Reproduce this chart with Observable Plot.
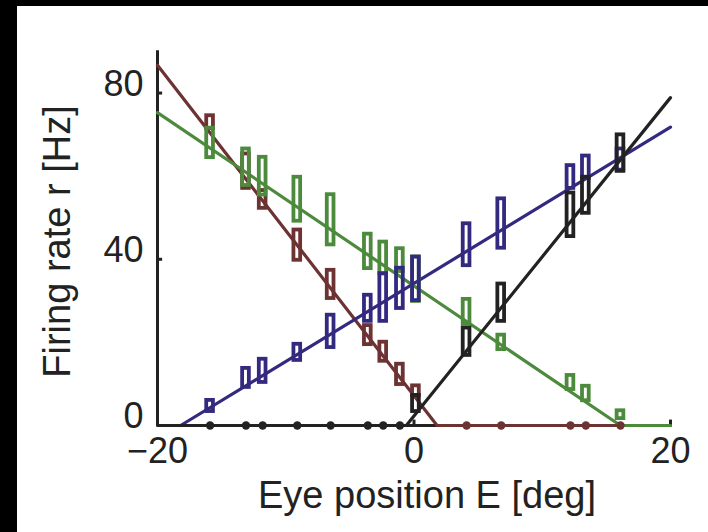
<!DOCTYPE html>
<html>
<head>
<meta charset="utf-8">
<script src="https://cdn.jsdelivr.net/npm/d3@7"></script>
<script src="https://cdn.jsdelivr.net/npm/@observablehq/plot@0.6"></script>
<style>
  html, body { margin: 0; padding: 0; background: #000; width: 708px; height: 532px; overflow: hidden; }
  #wrap { position: absolute; left: 17px; top: 6px; width: 691px; height: 526px; background: #fff; }
  svg { overflow: visible; font-family: "Liberation Sans", Arial, sans-serif; }
</style>
</head>
<body>
<div id="wrap"></div>
<script>
// Eye positions (deg) shared by all neurons
const eyePos = [-15.9, -13.1, -11.8, -9.1, -6.5, -3.6, -2.4, -1.1, 0.15, 4.1, 6.8, 12.2, 13.4, 16.1];

// Box ranges (low, high) in Hz; null = recorded rate at zero (drawn as a dot)
const redLo   = [71, 56.6, 51.8, 39.3, 30.1, 19, 15, 9.4, 6.7, null, null, null, null, null];
const redHi   = [75, 65.8, 57, 47.5, 37.8, 24.5, 20.5, 15.2, 10, null, null, null, null, null];
const greenLo = [64, 57.3, 55, 48.7, 43, 37.3, 36, 36.6, 29.4, 23.9, 17.8, 8.2, 5.5, 1.2];
const greenHi = [72, 67, 65, 60.2, 56, 46.5, 44.6, 43, 41, 30.8, 22.2, 12.5, 9.9, 4];
const blueLo  = [2.9, 8.7, 9.9, 15.2, 18.3, 24.6, 24.6, 27.7, 29.6, 38, 42.2, 56.6, 59, 61];
const blueHi  = [6.5, 14.2, 16.4, 20, 27, 31.8, 37, 38.3, 41, 49, 55, 63, 65.3, 67];
const blackLo = [null, null, null, null, null, null, null, null, 2.9, 16.4, 24.6, 45, 50.6, 60.7];
const blackHi = [null, null, null, null, null, null, null, null, 7.7, 23.9, 34.5, 56.4, 60.2, 70.4];

// Rectified linear fits
const redFitX = [-20, 1.8, 20],    redFitY = [86.7, 0, 0];
const greenFitX = [-20, 16.1, 20], greenFitY = [75.3, 0, 0];
const blueFitX = [-18.2, 20],      blueFitY = [0, 71.8];
const blackFitX = [-20, -0.6, 20], blackFitY = [0, 0, 78.9];

const xTicks = [-20, 0, 20];
const yTicks = [0, 40, 80];

const colors = { red: "#6d3232", green: "#4c8a3c", blue: "#332a7f", black: "#222222" };
const neurons = [
  { name: "red",   lo: redLo,   hi: redHi,   fx: redFitX,   fy: redFitY },
  { name: "green", lo: greenLo, hi: greenHi, fx: greenFitX, fy: greenFitY },
  { name: "blue",  lo: blueLo,  hi: blueHi,  fx: blueFitX,  fy: blueFitY },
  { name: "black", lo: blackLo, hi: blackHi, fx: blackFitX, fy: blackFitY }
];

const halfW = 0.41;
const marks = [];

// axes lines and inward ticks
marks.push(Plot.ruleX([-20], { y1: 0, y2: 90.2, stroke: "#222", strokeWidth: 3 }));
marks.push(Plot.ruleY([0], { x1: -20, x2: 20, stroke: "#222", strokeWidth: 3 }));
marks.push(Plot.ruleY(yTicks, { x1: -20, x2: -19.6, stroke: "#222", strokeWidth: 3 }));
marks.push(Plot.ruleX(xTicks, { y1: 0, y2: 1.3, stroke: "#222", strokeWidth: 3 }));

// fit lines
for (const n of neurons) {
  const pts = n.fx.map((x, i) => ({ x, y: n.fy[i] }));
  marks.push(Plot.line(pts, { x: "x", y: "y", stroke: colors[n.name], strokeWidth: 3.2 }));
}
// boxes and zero dots
for (const n of neurons) {
  const boxes = eyePos.map((x, i) => ({ x, lo: n.lo[i], hi: n.hi[i] })).filter(d => d.lo != null);
  const zeros = eyePos.map((x, i) => ({ x, lo: n.lo[i] })).filter(d => d.lo == null);
  marks.push(Plot.rect(boxes, {
    x1: d => d.x - halfW, x2: d => d.x + halfW, y1: "lo", y2: "hi",
    inset: 1.9, fill: "none", stroke: colors[n.name], strokeWidth: 3.8
  }));
  marks.push(Plot.dot(zeros, { x: "x", y: () => 0, r: 4.2, fill: colors[n.name], stroke: "none" }));
}

// tick labels
marks.push(Plot.axisX({ ticks: xTicks, tickSize: 0, tickPadding: 12, fontSize: 36, label: null, fill: "#222" }));
marks.push(Plot.axisY({ ticks: yTicks, tickSize: 0, tickPadding: 14, dy: -9, fontSize: 36, label: null, fill: "#222" }));

// axis titles
marks.push(Plot.text(["Eye position E [deg]"], { text: d => d, frameAnchor: "bottom", dy: 70, dx: 13, fontSize: 38, textAnchor: "middle", lineAnchor: "middle", fill: "#222" }));
marks.push(Plot.text(["Firing rate r [Hz]"], { text: d => d, frameAnchor: "left", dx: -100, dy: 3, rotate: -90, fontSize: 38, textAnchor: "middle", lineAnchor: "middle", fill: "#222" }));

const chart = Plot.plot({
  width: 691,
  height: 526,
  marginLeft: 140,
  marginRight: 38,
  marginTop: 45,
  marginBottom: 107,
  x: { domain: [-20, 20], axis: null },
  y: { domain: [0, 90], axis: null },
  style: { background: "#fff", overflow: "visible" },
  marks
});
document.getElementById("wrap").appendChild(chart);
</script>
</body>
</html>
